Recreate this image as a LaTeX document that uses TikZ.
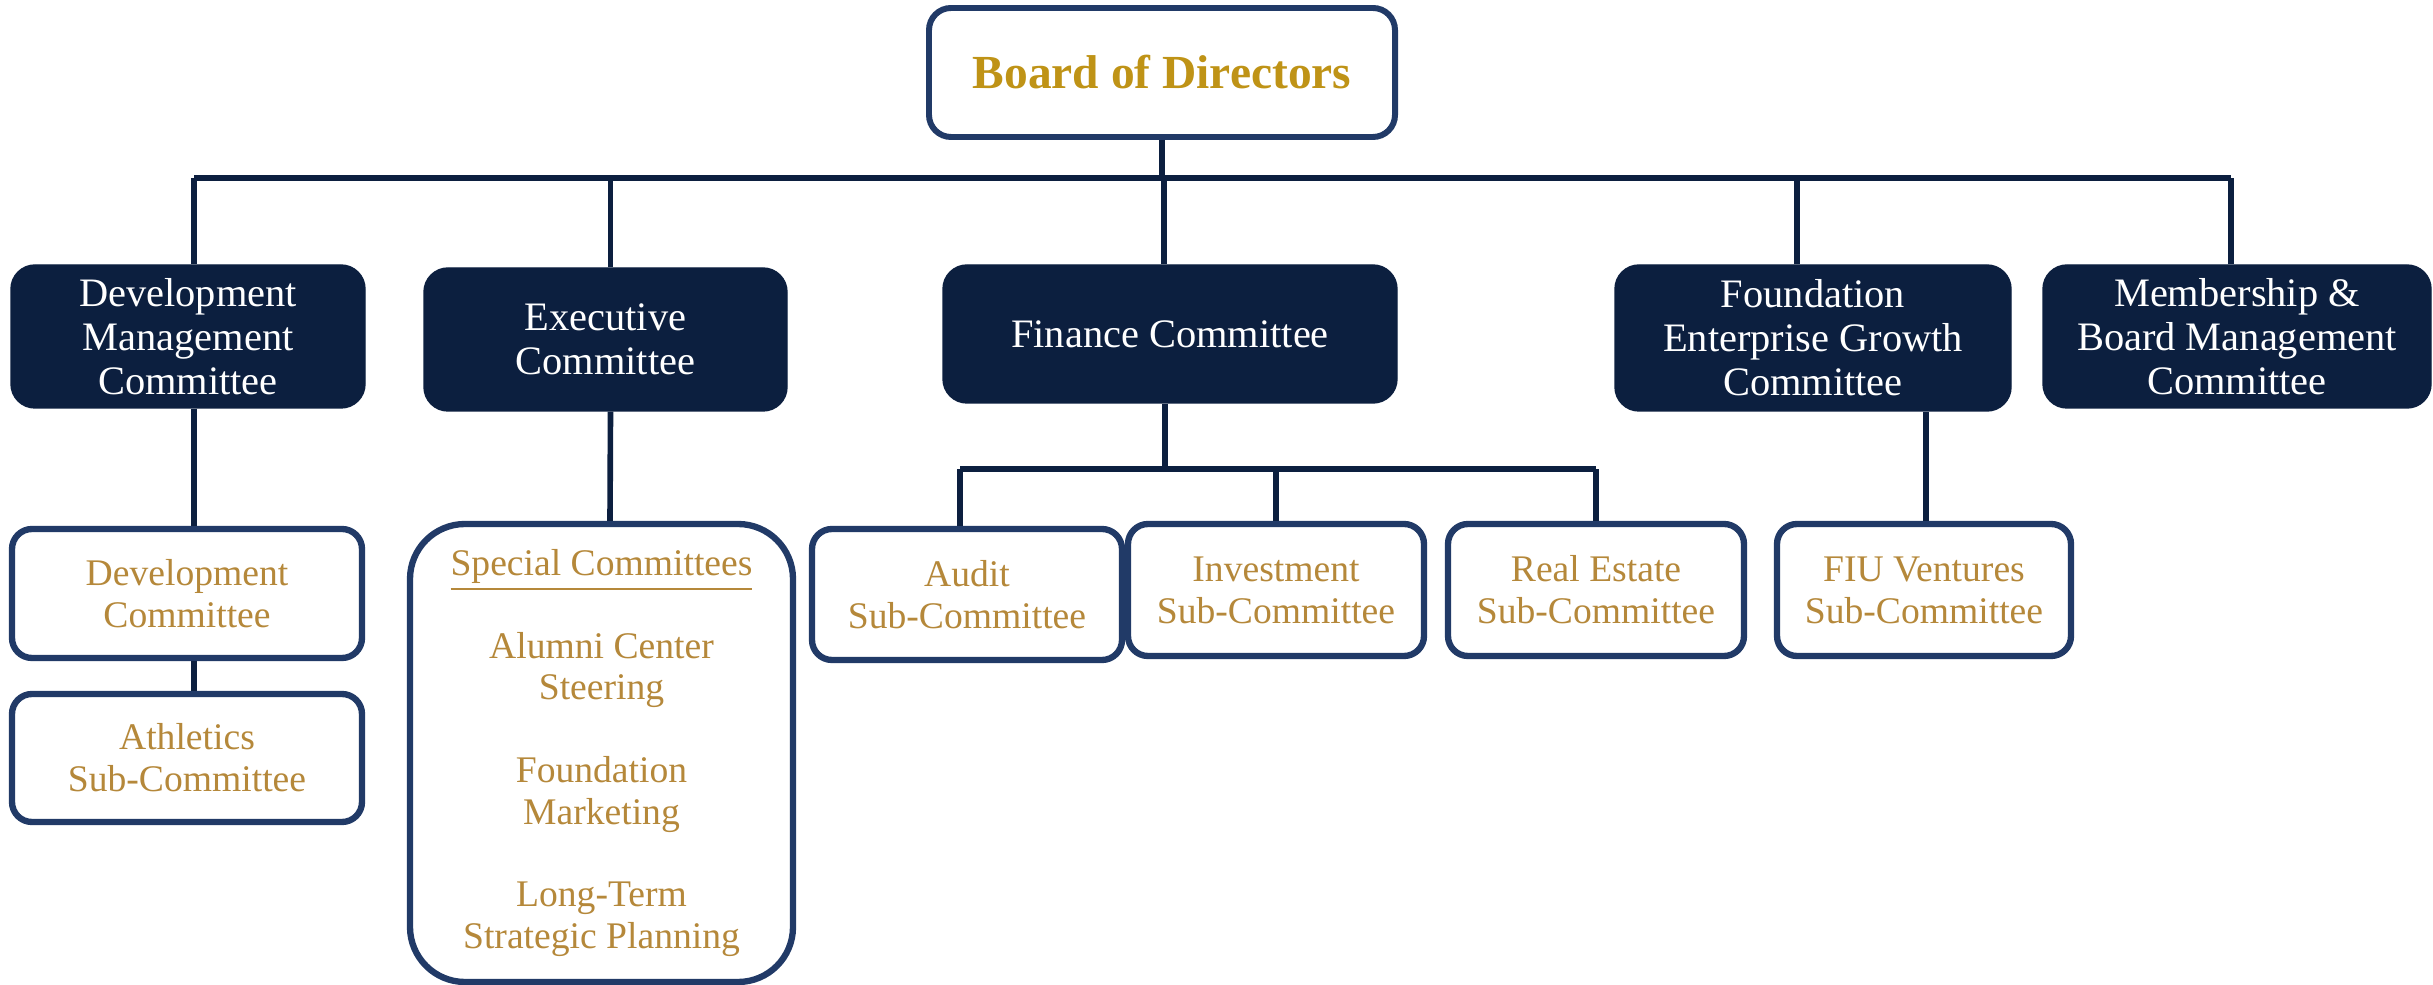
\documentclass[tikz,border=0pt]{standalone}
\usepackage{fontspec}
\setmainfont{Liberation Serif}
\usepackage{xcolor}
\usepackage{tikz}
\usetikzlibrary{positioning,calc}
\definecolor{navy}{HTML}{0C1F3F}
\definecolor{edgeblue}{HTML}{213A67}
\definecolor{gold}{HTML}{B5883A}
\definecolor{boardgold}{HTML}{BF9316}

\begin{document}
\begin{tikzpicture}[link/.style={draw=navy, line width=1.6pt},
    boardbox/.style={draw=edgeblue, line width=1.7pt, fill=white, rounded corners=0.22cm, align=center, inner sep=0pt,
        text=boardgold, font=\fontsize{13.5}{16}\selectfont\bfseries},
    combox/.style={fill=navy, draw=navy, rounded corners=0.24cm, align=center, inner sep=0pt,
        text=white, font=\fontsize{11.5}{12.5}\selectfont},
    subbox/.style={draw=edgeblue, line width=1.8pt, fill=white, rounded corners=0.2cm, align=center, inner sep=0pt,
        text=gold, font=\fontsize{10.7}{11.9}\selectfont}]
    \useasboundingbox (0,0) rectangle (24.33,-9.85);
    \coordinate (bus) at (0,-1.78);
    \coordinate (finbus) at (0,-4.69);

    \node[boardbox, minimum width=4.66cm, minimum height=1.29cm] (board) at (11.62,-0.725) {Board of Directors};

    \node[combox, minimum width=3.54cm, minimum height=1.43cm] (dmc) at (1.88,-3.365) {Development\\ Management\\ Committee};
    \node[combox, minimum width=3.63cm, minimum height=1.43cm] (exec) at (6.055,-3.395) {Executive\\ Committee};
    \node[combox, minimum width=4.54cm, minimum height=1.38cm] (fin) at (11.70,-3.34) {Finance Committee};
    \node[combox, minimum width=3.96cm, minimum height=1.46cm] (fegc) at (18.13,-3.38) {Foundation\\ Enterprise Growth\\ Committee};
    \node[combox, minimum width=3.88cm, minimum height=1.43cm] (mbmc) at (22.37,-3.365) {Membership \&\\ Board Management\\ Committee};

    \node[subbox, minimum width=3.50cm, minimum height=1.29cm] (dev) at (1.87,-5.935) {Development\\ Committee};
    \node[subbox, minimum width=3.50cm, minimum height=1.28cm] (ath) at (1.87,-7.58) {Athletics\\ Sub-Committee};
    \node[subbox, minimum width=3.83cm, minimum height=4.58cm, rounded corners=0.55cm] (special) at (6.015,-7.53)
        {\raisebox{0pt}[\height][0pt]{\underline{Special Committees}}\\[11.5pt] Alumni Center\\ Steering\\[11.5pt] Foundation\\ Marketing\\[11.5pt] Long-Term\\ Strategic Planning};
    \node[subbox, minimum width=3.10cm, minimum height=1.31cm] (audit) at (9.67,-5.945) {Audit\\ Sub-Committee};
    \node[subbox, minimum width=2.96cm, minimum height=1.32cm] (inv) at (12.76,-5.90) {Investment\\ Sub-Committee};
    \node[subbox, minimum width=2.96cm, minimum height=1.32cm] (realest) at (15.96,-5.90) {Real Estate\\ Sub-Committee};
    \node[subbox, minimum width=2.94cm, minimum height=1.32cm] (fiu) at (19.24,-5.90) {FIU Ventures\\ Sub-Committee};

    \draw[link] ([xshift=0.06cm]dmc.north |- bus) -- ([xshift=-0.06cm]mbmc.north |- bus);
    \draw[link] (board.south) -- (board.south |- bus);
    \draw[link] ([xshift=0.06cm]dmc.north) -- ([xshift=0.06cm]dmc.north |- bus);
    \draw[link] ([xshift=0.05cm]exec.north) -- ([xshift=0.05cm]exec.north |- bus);
    \draw[link] ([xshift=-0.06cm]fin.north) -- ([xshift=-0.06cm]fin.north |- bus);
    \draw[link] ([xshift=-0.16cm]fegc.north) -- ([xshift=-0.16cm]fegc.north |- bus);
    \draw[link] ([xshift=-0.06cm]mbmc.north) -- ([xshift=-0.06cm]mbmc.north |- bus);

    \draw[link] ([xshift=0.06cm]dmc.south) -- ([xshift=0.07cm]dev.north);
    \draw[link] ([xshift=0.07cm]dev.south) -- ([xshift=0.07cm]ath.north);
    \draw[link] ([xshift=0.05cm]exec.south) -- ([xshift=0.085cm]special.north);

    \draw[link] ([xshift=-0.05cm]fin.south) -- ([xshift=-0.05cm]fin.south |- finbus);
    \draw[link] ([xshift=-0.07cm]audit.north |- finbus) -- (realest.north |- finbus);
    \draw[link] ([xshift=-0.07cm]audit.north) -- ([xshift=-0.07cm]audit.north |- finbus);
    \draw[link] (inv.north) -- (inv.north |- finbus);
    \draw[link] (realest.north) -- (realest.north |- finbus);

    \draw[link] ([xshift=0.02cm]fiu.north) -- ([xshift=0.02cm]fiu.north |- fegc.south);
\end{tikzpicture}
\end{document}
